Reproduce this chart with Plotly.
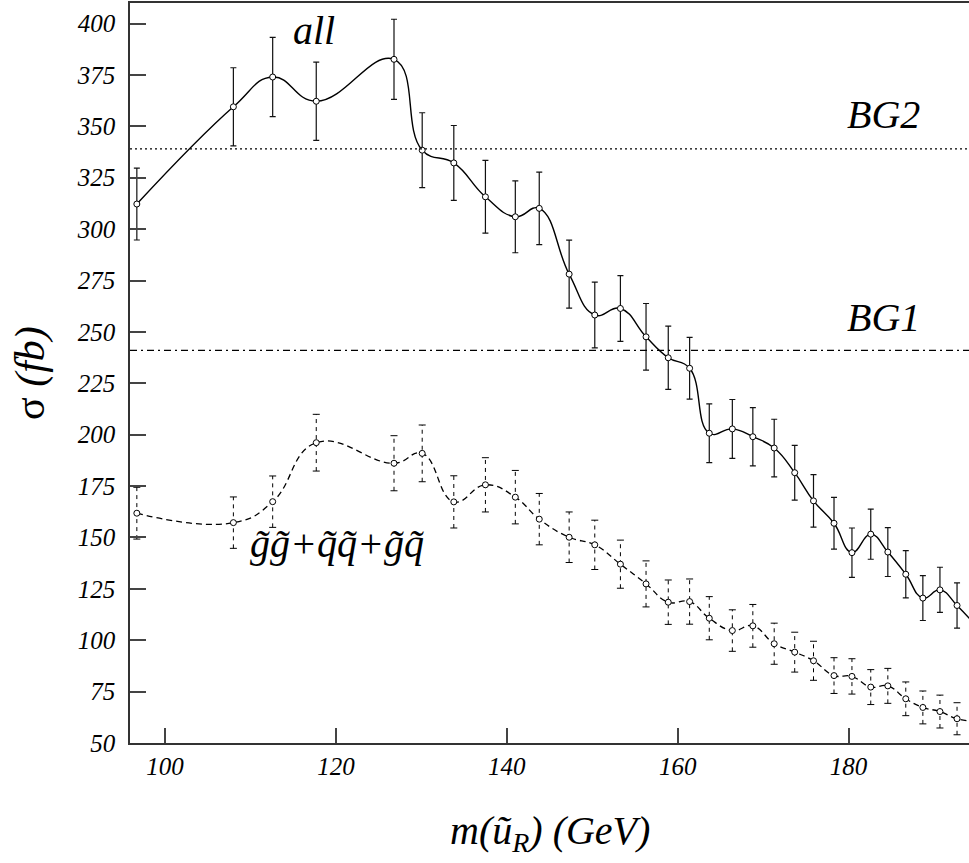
import plotly.graph_objects as go

# ---- data ----
mass = [96.7, 108.0, 112.6, 117.7, 126.8, 130.1, 133.8, 137.5, 141.0, 143.8,
        147.3, 150.3, 153.3, 156.3, 158.9, 161.4, 163.7, 166.4, 168.8, 171.3,
        173.7, 175.9, 178.3, 180.4, 182.6, 184.6, 186.7, 188.7, 190.7, 192.7, 194.7]

sigma_all = [312.2, 359.5, 374.0, 362.2, 382.6, 338.4, 332.2, 315.7, 306.0, 310.1,
             278.1, 258.2, 261.4, 247.6, 237.4, 232.3, 200.7, 202.8, 199.0, 193.5,
             181.5, 167.8, 156.9, 142.6, 151.6, 142.9, 132.1, 120.5, 124.5, 116.9, 108.0]
err_all = [17.5, 19.0, 19.3, 19.0, 19.5, 18.2, 18.2, 17.7, 17.5, 17.6,
           16.5, 16.0, 16.0, 16.2, 15.4, 15.0, 14.3, 14.3, 14.2, 14.0,
           13.3, 12.8, 12.6, 12.0, 12.2, 11.9, 11.5, 10.9, 11.0, 11.0, 10.6]

sigma_sub = [161.8, 157.2, 167.4, 196.1, 186.1, 190.9, 167.3, 175.6, 169.6, 158.9,
             150.1, 146.4, 137.0, 127.4, 118.5, 118.8, 110.7, 104.7, 107.0, 98.3,
             94.2, 90.0, 82.8, 82.4, 77.2, 77.8, 71.5, 67.3, 65.3, 61.8, 60.5]
err_sub = [12.6, 12.5, 12.5, 13.8, 13.4, 13.8, 12.7, 13.2, 13.0, 12.5,
           12.3, 12.0, 11.7, 11.2, 10.8, 11.0, 10.5, 10.1, 10.4, 10.0,
           9.7, 9.5, 8.7, 8.6, 8.5, 8.5, 8.2, 8.0, 8.0, 7.8, 7.6]

bg_levels = [241.0, 339.0]          # BG1, BG2
bg_names = ["BG1", "BG2"]

x_ticks = [100, 120, 140, 160, 180]
y_ticks = [50, 75, 100, 125, 150, 175, 200, 225, 250, 275, 300, 325, 350, 375, 400]

SERIF = "Liberation Serif"

fig = go.Figure()

# background levels
bg_dash = ["7px,4px,2px,4px", "2px,3px"]
for lvl, d in zip(bg_levels, bg_dash):
    fig.add_shape(type="line", xref="paper", x0=0, x1=1, yref="y", y0=lvl, y1=lvl,
                  line=dict(color="black", width=1.2, dash=d))

# "all" curve with solid error bars
fig.add_trace(go.Scatter(
    x=mass, y=sigma_all, mode="lines+markers",
    line=dict(color="black", width=1.4, shape="spline", smoothing=1.3),
    marker=dict(symbol="circle", size=6, color="white", line=dict(color="black", width=1)),
    error_y=dict(type="data", array=err_all, visible=True, color="#111", thickness=1.2, width=3),
    showlegend=False, cliponaxis=True))

# dashed sub-process curve: dashed error bars built from the data
ex, ey = [], []
for xv, yv, ev in zip(mass, sigma_sub, err_sub):
    ex += [xv, xv, None]
    ey += [yv - ev, yv + ev, None]
fig.add_trace(go.Scatter(x=ex, y=ey, mode="lines",
                         line=dict(color="black", width=1, dash="4px,4px"),
                         showlegend=False, hoverinfo="skip"))
cap_x = mass + mass
cap_y = [y - e for y, e in zip(sigma_sub, err_sub)] + [y + e for y, e in zip(sigma_sub, err_sub)]
fig.add_trace(go.Scatter(x=cap_x, y=cap_y, mode="markers",
                         marker=dict(symbol="line-ew", size=5, line=dict(color="black", width=1)),
                         showlegend=False, hoverinfo="skip"))
fig.add_trace(go.Scatter(
    x=mass, y=sigma_sub, mode="lines+markers",
    line=dict(color="black", width=1.3, shape="spline", smoothing=1.3, dash="6px,4px"),
    marker=dict(symbol="circle", size=6, color="white", line=dict(color="black", width=1)),
    showlegend=False))

# text labels
lab_font = dict(family=SERIF, size=40, color="black", style="italic")
fig.add_annotation(x=117.4, y=396.5, text="all", showarrow=False, font=lab_font)
fig.add_annotation(x=184.1, y=356, text=bg_names[1], showarrow=False, font=lab_font)
fig.add_annotation(x=184.1, y=257, text=bg_names[0], showarrow=False, font=lab_font)
fig.add_annotation(x=120.1, y=147, text="g\u0303g\u0303+q\u0303q\u0303+g\u0303q\u0303",
                   showarrow=False, font=dict(family=SERIF, size=40, color="black", style="italic"))

# axis titles
fig.add_annotation(xref="paper", yref="paper", x=0.5, y=0, yshift=-90, yanchor="middle",
                   xanchor="center",
                   text="m(ũ<sub>R</sub>) (GeV)", showarrow=False,
                   font=dict(family=SERIF, size=40, color="black", style="italic"))
fig.add_annotation(xref="paper", yref="paper", x=0, y=0.5, xshift=-100, textangle=-90,
                   xanchor="center", yanchor="middle",
                   text="σ <i>(fb)</i>", showarrow=False,
                   font=dict(family=SERIF, size=42, color="black"))

tick_font = dict(family=SERIF, size=25, color="black", style="italic")
fig.update_layout(
    width=969, height=863,
    margin=dict(l=130, r=0, t=3, b=120),
    paper_bgcolor="white", plot_bgcolor="white",
    showlegend=False,
    xaxis=dict(range=[95.9, 194.1], tickvals=x_ticks,
               ticktext=[f"<i>{v}</i>" for v in x_ticks], ticks="inside", ticklen=15,
               tickcolor="#444", tickwidth=1.5, showgrid=False, zeroline=False,
               showline=True, linecolor="#333", linewidth=1.5, mirror=True,
               tickfont=tick_font),
    yaxis=dict(range=[50, 410], tickvals=y_ticks,
               ticktext=[f"<i>{v}</i>" for v in y_ticks], ticks="inside", ticklen=16,
               tickcolor="#444", tickwidth=1.5, showgrid=False, zeroline=False,
               showline=True, linecolor="#333", linewidth=1.5, mirror=False,
               ticklabelstandoff=8, tickfont=tick_font),
)

fig.write_html("out.html")
